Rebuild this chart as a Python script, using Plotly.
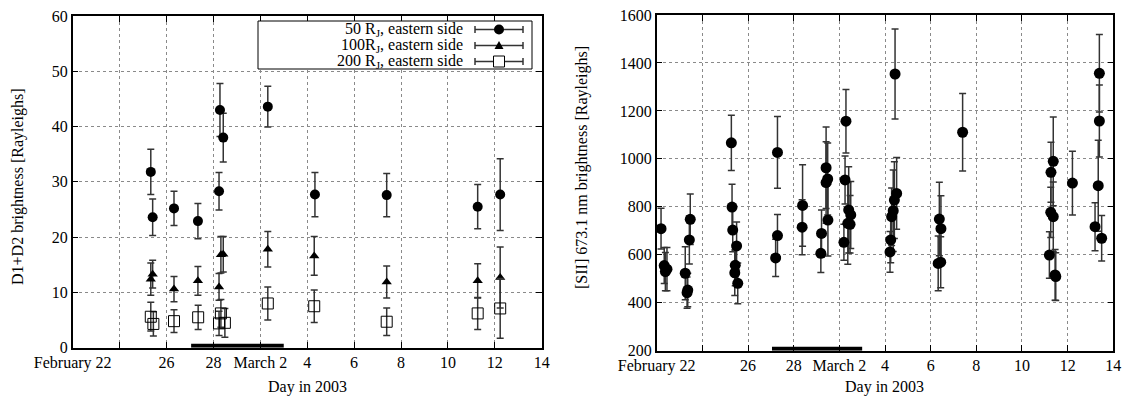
import plotly.graph_objects as go

W, H = 1126, 400
SERIF = "Liberation Serif"

# Day axis: days counted from 1 February 2003 (so March 2 -> 30)
tick_days = [22, 24, 26, 28, 30, 32, 34, 36, 38, 40, 42]
tick_text = ["February 22", "", "26", "28", "March 2", "4", "6", "8", "10", "12", "14"]

# Interval marked by the black bar along the bottom axis
observation_window = [27.05, 31.0]

# ---- Left panel: Na D1+D2 brightness at three distances (eastern side) ----
d50_day = [25.33, 25.41, 26.32, 27.34, 28.24, 28.28, 28.42, 30.32, 32.33, 35.39, 39.27, 40.23]
d50_val = [31.8, 23.6, 25.2, 22.9, 28.3, 43.0, 38.0, 43.6, 27.7, 27.6, 25.5, 27.7]
d50_err = [4.1, 3.3, 3.1, 3.2, 3.4, 4.8, 4.4, 3.7, 4.0, 3.9, 4.0, 6.5]

d100_day = [25.33, 25.41, 26.32, 27.34, 28.24, 28.32, 28.42, 30.32, 32.30, 35.39, 39.27, 40.23]
d100_val = [12.4, 13.3, 10.6, 12.1, 11.0, 16.8, 16.9, 17.8, 16.6, 11.9, 12.1, 12.7]
d100_err = [2.9, 2.5, 2.3, 2.6, 2.4, 3.3, 3.2, 3.2, 3.5, 2.9, 3.1, 5.5]

d200_day = [25.33, 25.44, 26.32, 27.35, 28.24, 28.32, 28.49, 30.32, 32.30, 35.39, 39.27, 40.23]
d200_val = [5.6, 4.3, 4.8, 5.5, 4.4, 6.2, 4.5, 8.0, 7.5, 4.7, 6.2, 7.1]
d200_err = [2.6, 2.2, 2.05, 2.2, 2.2, 2.5, 2.6, 3.0, 2.95, 2.5, 2.9, 5.4]

legend_labels = [
    "50 R<sub>J</sub>, eastern side",
    "100R<sub>J</sub>, eastern side",
    "200 R<sub>J</sub>, eastern side",
]

# ---- Right panel: [SII] 673.1 nm brightness ----
sii_day = [
    22.19, 22.33, 22.38, 22.45,
    23.25, 23.36, 23.33, 23.43, 23.47,
    25.27, 25.30, 25.33, 25.42, 25.44, 25.50, 25.55,
    27.29, 27.29, 27.21,
    28.39, 28.37,
    29.22, 29.19, 29.42, 29.49, 29.42, 29.50,
    30.29, 30.25, 30.20, 30.41, 30.50, 30.37, 30.47,
    32.22, 32.25, 32.29, 32.36, 32.41, 32.51, 32.44,
    34.38, 34.45, 34.33, 34.44,
    35.40,
    39.37, 39.27, 39.26, 39.37, 39.20, 39.45, 39.48,
    40.21,
    41.39, 41.39, 41.34, 41.20, 41.49,
]
sii_val = [
    709, 555, 530, 540,
    523, 453, 442, 662, 748,
    1067, 799, 703, 525, 556, 637, 481,
    1027, 680, 587,
    806, 715,
    689, 606, 963, 916, 901, 745,
    1157, 912, 652, 787, 766, 731, 727,
    612, 662, 759, 784, 828, 856, 1354,
    749, 709, 564, 569,
    1111,
    990, 944, 777, 759, 599, 516, 509,
    899,
    1357, 1158, 888, 717, 669,
]
sii_err = [
    85, 75, 80, 90,
    110, 70, 65, 100, 105,
    115, 95, 90, 95, 85, 100, 85,
    150, 88, 78,
    170, 115,
    98, 80, 170, 150, 170, 150,
    132, 100, 75, 180, 140, 170, 120,
    85, 95, 120, 170, 160, 150, 188,
    153, 137, 114, 106,
    162,
    185, 125, 105, 145, 97, 106, 100,
    133,
    162, 150, 190, 100, 95,
]

ERR_COLOR = "#333333"
FONT_SIZE = 16


def err(values):
    return dict(type="data", array=values, color=ERR_COLOR, thickness=1.5, width=3.5)


fig = go.Figure()

fig.add_trace(go.Scatter(
    x=d50_day, y=d50_val, error_y=err(d50_err), mode="markers",
    marker=dict(symbol="circle", size=10, color="black"),
    xaxis="x", yaxis="y", showlegend=False))
fig.add_trace(go.Scatter(
    x=d100_day, y=d100_val, error_y=err(d100_err), mode="markers",
    marker=dict(symbol="triangle-up", size=9, color="black"),
    xaxis="x", yaxis="y", showlegend=False))
fig.add_trace(go.Scatter(
    x=d200_day, y=d200_val, error_y=err(d200_err), mode="markers",
    marker=dict(symbol="square-open", size=11, color="black", line=dict(width=1)),
    xaxis="x", yaxis="y", showlegend=False))
fig.add_trace(go.Scatter(
    x=sii_day, y=sii_val, error_y=err(sii_err), mode="markers",
    marker=dict(symbol="circle", size=11, color="black"),
    xaxis="x2", yaxis="y2", showlegend=False))

axis_style = dict(
    showline=True, linecolor="black", linewidth=1.5, mirror="all",
    ticks="inside", ticklen=6, tickwidth=1, tickcolor="black",
    showgrid=True, gridcolor="#8a8a8a", griddash="dot", gridwidth=1,
    zeroline=False, automargin=False,
    tickfont=dict(family=SERIF, size=FONT_SIZE, color="black"),
)

fig.update_layout(
    width=W, height=H, autosize=False,
    margin=dict(l=0, r=0, t=0, b=0),
    paper_bgcolor="white", plot_bgcolor="white",
    xaxis=dict(domain=[72.7 / W, 541.7 / W], range=[22, 42], anchor="y",
               tickvals=tick_days, ticktext=tick_text, ticklabelstandoff=-1, **axis_style),
    yaxis=dict(domain=[1 - 347.7 / H, 1 - 16 / H], range=[0, 60], anchor="x",
               tickvals=[0, 10, 20, 30, 40, 50, 60], **axis_style),
    xaxis2=dict(domain=[656.7 / W, 1113.3 / W], range=[22, 42], anchor="y2",
                tickvals=tick_days, ticktext=tick_text, ticklabelstandoff=-1, **axis_style),
    yaxis2=dict(domain=[1 - 350.7 / H, 1 - 15 / H], range=[200, 1600], anchor="x2",
                tickvals=list(range(200, 1601, 200)), **axis_style),
)

shapes = []
# black bars along the time axis
for xr, yr, base in (("x", "y", 0), ("x2", "y2", 200)):
    shapes.append(dict(type="rect", xref=xr, yref=yr, x0=observation_window[0],
                       x1=observation_window[1], ysizemode="pixel", yanchor=base,
                       y0=0, y1=4, fillcolor="black", line=dict(width=0), layer="above"))

# key box in the left panel
shapes.append(dict(type="rect", xref="paper", yref="paper",
                   x0=258 / W, x1=532 / W, y0=1 - 69 / H, y1=1 - 21 / H,
                   fillcolor="white", line=dict(color="black", width=1), layer="above"))

annotations = []
key_x0, key_x1, key_mid, text_right = 475, 523, 499, 465
for i, label in enumerate(legend_labels):
    ypx = 29.5 + i * 16
    yp = 1 - ypx / H
    # horizontal error-bar sample with end caps
    shapes.append(dict(type="line", xref="paper", yref="paper",
                       x0=key_x0 / W, x1=key_x1 / W, y0=yp, y1=yp,
                       line=dict(color=ERR_COLOR, width=1.5), layer="above"))
    for xe in (key_x0, key_x1):
        shapes.append(dict(type="line", xref="paper", yref="paper",
                           xsizemode="pixel", ysizemode="pixel",
                           xanchor=xe / W, yanchor=yp, x0=0, x1=0, y0=-3.5, y1=3.5,
                           line=dict(color=ERR_COLOR, width=1.5), layer="above"))
    common = dict(xref="paper", yref="paper", xsizemode="pixel", ysizemode="pixel",
                  xanchor=key_mid / W, yanchor=yp, layer="above")
    if i == 0:
        shapes.append(dict(type="circle", x0=-5, x1=5, y0=-5, y1=5,
                           fillcolor="black", line=dict(width=0), **common))
    elif i == 1:
        shapes.append(dict(type="path", path="M-4.5,-3.5 L4.5,-3.5 L0,4.5 Z",
                           fillcolor="black", line=dict(width=0), **common))
    else:
        shapes.append(dict(type="rect", x0=-5.5, x1=5.5, y0=-5.5, y1=5.5,
                           fillcolor="white", line=dict(color="black", width=1), **common))
    annotations.append(dict(text=label, xref="paper", yref="paper",
                            x=text_right / W, y=yp, xanchor="right", yanchor="middle",
                            showarrow=False, font=dict(family=SERIF, size=FONT_SIZE, color="black")))

# axis titles
title_font = dict(family=SERIF, size=FONT_SIZE, color="black")
annotations += [
    dict(text="Day in 2003", xref="paper", yref="paper", x=307.2 / W, y=1 - 387 / H,
         xanchor="center", yanchor="middle", showarrow=False, font=title_font),
    dict(text="Day in 2003", xref="paper", yref="paper", x=885 / W, y=1 - 387 / H,
         xanchor="center", yanchor="middle", showarrow=False, font=title_font),
    dict(text="D1+D2 brightness [Rayleighs]", xref="paper", yref="paper",
         x=18 / W, y=1 - 187 / H, textangle=-90, xanchor="center", yanchor="middle",
         showarrow=False, font=title_font),
    dict(text="[SII] 673.1 nm brightness [Rayleighs]", xref="paper", yref="paper",
         x=582 / W, y=1 - 168 / H, textangle=-90, xanchor="center", yanchor="middle",
         showarrow=False, font=title_font),
]

fig.update_layout(shapes=shapes, annotations=annotations)
fig.write_html("out.html")
